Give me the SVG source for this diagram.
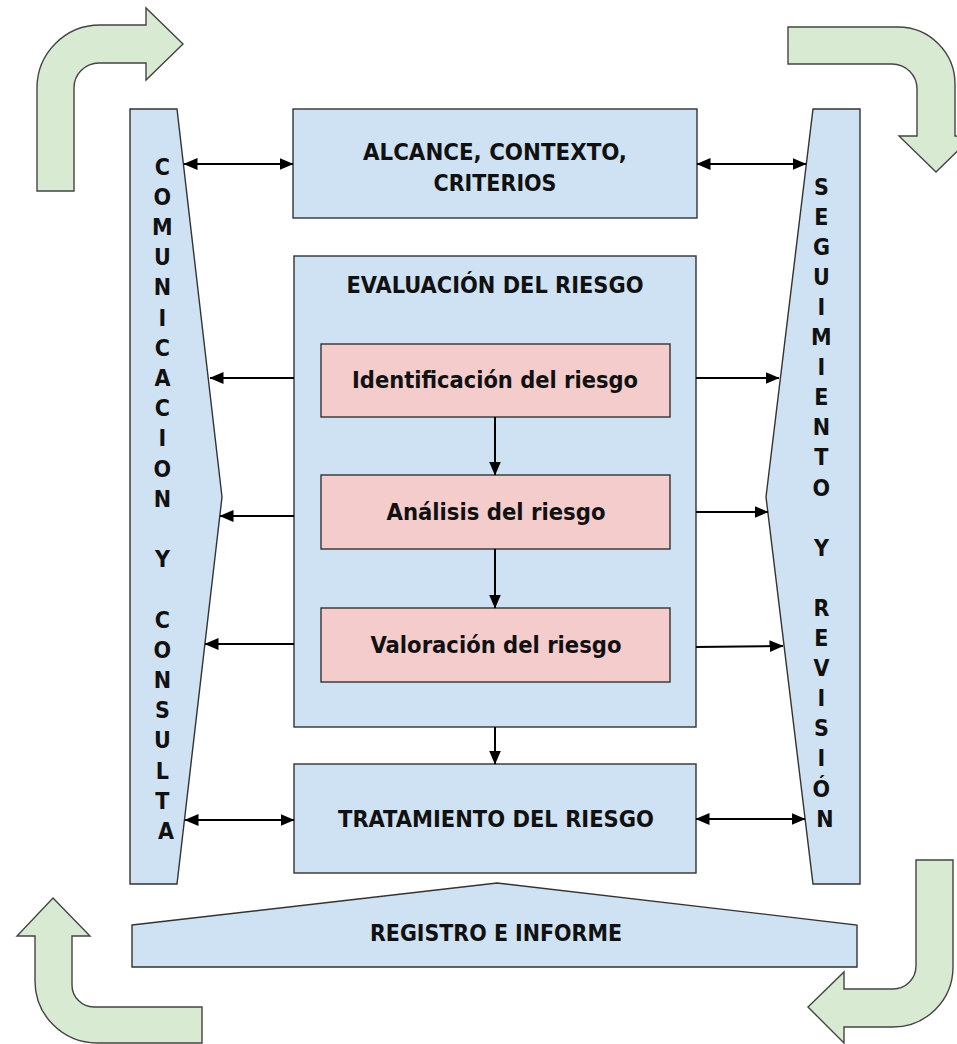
<svg xmlns="http://www.w3.org/2000/svg" width="957" height="1044" viewBox="0 0 957 1044">
  <style>
    .blue { fill: #cfe2f3; stroke: #333333; stroke-width: 1.4; }
    .pink { fill: #f4cccc; stroke: #333333; stroke-width: 1.4; }
    .cycle { fill: #d9ead3; stroke: #444444; stroke-width: 1.4; stroke-linejoin: miter; }
    .lbl { font-family: "DejaVu Sans Condensed", "DejaVu Sans", "Liberation Sans", sans-serif; font-stretch: condensed; font-weight: bold; font-size: 23px; fill: #111111; text-anchor: middle; }
    .col { font-family: "DejaVu Sans Condensed", "DejaVu Sans", "Liberation Sans", sans-serif; font-stretch: condensed; font-weight: bold; font-size: 23px; fill: #111111; text-anchor: middle; }
    .conn { stroke: #000000; stroke-width: 2; fill: none; }
  </style>
  <defs>
    <marker id="head" viewBox="0 0 14 12" refX="13.5" refY="6" markerWidth="14" markerHeight="12" markerUnits="userSpaceOnUse" orient="auto-start-reverse">
      <path d="M0,0 L14,6 L0,12 Z" fill="#000000"/>
    </marker>
  </defs>

  <rect width="957" height="1044" fill="#ffffff"/>

  <!-- cycle arrows in the four corners -->
  <g id="cycle-top-left">
    <path class="cycle" d="M37,191 V88 A63,63 0 0 1 100,25 H146 V8 L183,44 L146,80 V63 H99 A25,25 0 0 0 74,88 V191 Z"/>
  </g>
  <g id="cycle-top-right">
    <path class="cycle" d="M788,27 H898 A57,57 0 0 1 955,84 V136 H973 L936,172 L899,136 H917 V89 A25,25 0 0 0 892,64 H788 Z"/>
  </g>
  <g id="cycle-bottom-right">
    <path class="cycle" d="M916,860 H953 V967 A60,60 0 0 1 893,1027 H844 V1043 L808,1007 L844,972 V989 H893 A23,23 0 0 0 916,966 Z"/>
  </g>
  <g id="cycle-bottom-left">
    <path class="cycle" d="M53,898 L90,936 H72 V985 A22,22 0 0 0 94,1007 H202 V1043 H97 A62,62 0 0 1 35,981 V936 H17 Z"/>
  </g>

  <!-- side columns -->
  <g id="comunicacion">
    <polygon class="blue" points="130,109 177,109 222,497 177,884 130,884"/>
    <text class="col">
      <tspan x="166" y="174.5">C</tspan>
      <tspan x="166" y="204.7">O</tspan>
      <tspan x="166" y="234.9">M</tspan>
      <tspan x="166" y="265.1">U</tspan>
      <tspan x="166" y="295.3">N</tspan>
      <tspan x="166" y="325.5">I</tspan>
      <tspan x="166" y="355.7">C</tspan>
      <tspan x="166" y="385.9">A</tspan>
      <tspan x="166" y="416.1">C</tspan>
      <tspan x="166" y="446.3">I</tspan>
      <tspan x="166" y="476.5">O</tspan>
      <tspan x="166" y="506.7">N</tspan>
      <tspan x="166" y="567.1">Y</tspan>
      <tspan x="166" y="627.5">C</tspan>
      <tspan x="166" y="657.7">O</tspan>
      <tspan x="166" y="687.9">N</tspan>
      <tspan x="166" y="718.1">S</tspan>
      <tspan x="166" y="748.3">U</tspan>
      <tspan x="166" y="778.5">L</tspan>
      <tspan x="166" y="808.7">T</tspan>
      <tspan x="166" y="838.9">A</tspan>
    </text>
  </g>
  <g id="seguimiento">
    <polygon class="blue" points="813,109 860,109 860,884 813,884 766,497"/>
    <text class="col">
      <tspan x="825" y="194.5">S</tspan>
      <tspan x="825" y="224.6">E</tspan>
      <tspan x="825" y="254.7">G</tspan>
      <tspan x="825" y="284.8">U</tspan>
      <tspan x="825" y="314.9">I</tspan>
      <tspan x="825" y="345">M</tspan>
      <tspan x="825" y="375.1">I</tspan>
      <tspan x="825" y="405.2">E</tspan>
      <tspan x="825" y="435.3">N</tspan>
      <tspan x="825" y="465.4">T</tspan>
      <tspan x="825" y="495.5">O</tspan>
      <tspan x="825" y="555.7">Y</tspan>
      <tspan x="825" y="615.9">R</tspan>
      <tspan x="825" y="646">E</tspan>
      <tspan x="825" y="676.1">V</tspan>
      <tspan x="825" y="706.2">I</tspan>
      <tspan x="825" y="736.3">S</tspan>
      <tspan x="825" y="766.4">I</tspan>
      <tspan x="825" y="796.5">Ó</tspan>
      <tspan x="825" y="826.6">N</tspan>
    </text>
  </g>

  <!-- central process -->
  <g id="alcance">
    <rect class="blue" x="293" y="109" width="404" height="109"/>
    <text class="lbl" x="495" y="160" textLength="264" lengthAdjust="spacingAndGlyphs">ALCANCE, CONTEXTO,</text>
    <text class="lbl" x="495" y="191" textLength="123" lengthAdjust="spacingAndGlyphs">CRITERIOS</text>
  </g>
  <g id="evaluacion">
    <rect class="blue" x="294" y="256" width="402" height="471"/>
    <text class="lbl" x="495" y="293" textLength="297" lengthAdjust="spacingAndGlyphs">EVALUACIÓN DEL RIESGO</text>
  </g>
  <g id="identificacion">
    <rect class="pink" x="321" y="344" width="349" height="73"/>
    <text class="lbl" x="495" y="388" textLength="286" lengthAdjust="spacingAndGlyphs">Identificación del riesgo</text>
  </g>
  <g id="analisis">
    <rect class="pink" x="321" y="475" width="349" height="74"/>
    <text class="lbl" x="496" y="520" textLength="219" lengthAdjust="spacingAndGlyphs">Análisis del riesgo</text>
  </g>
  <g id="valoracion">
    <rect class="pink" x="321" y="608" width="349" height="74"/>
    <text class="lbl" x="496" y="653" textLength="251" lengthAdjust="spacingAndGlyphs">Valoración del riesgo</text>
  </g>
  <g id="tratamiento">
    <rect class="blue" x="294" y="764" width="402" height="109"/>
    <text class="lbl" x="496" y="827" textLength="316" lengthAdjust="spacingAndGlyphs">TRATAMIENTO DEL RIESGO</text>
  </g>
  <g id="registro">
    <polygon class="blue" points="132,925 497,883 857,925 857,967 132,967"/>
    <text class="lbl" x="496" y="941" textLength="252" lengthAdjust="spacingAndGlyphs">REGISTRO E INFORME</text>
  </g>

  <!-- connectors -->
  <g id="connectors">
    <line class="conn" x1="184" y1="164" x2="293" y2="164" marker-start="url(#head)" marker-end="url(#head)"/>
    <line class="conn" x1="697" y1="164" x2="806" y2="164" marker-start="url(#head)" marker-end="url(#head)"/>
    <line class="conn" x1="294" y1="378" x2="210" y2="378" marker-end="url(#head)"/>
    <line class="conn" x1="294" y1="516" x2="220" y2="516" marker-end="url(#head)"/>
    <line class="conn" x1="294" y1="644" x2="205" y2="644" marker-end="url(#head)"/>
    <line class="conn" x1="696" y1="378" x2="779" y2="378" marker-end="url(#head)"/>
    <line class="conn" x1="696" y1="512" x2="768" y2="512" marker-end="url(#head)"/>
    <line class="conn" x1="696" y1="647" x2="783" y2="646" marker-end="url(#head)"/>
    <line class="conn" x1="495" y1="417" x2="495" y2="475" marker-end="url(#head)"/>
    <line class="conn" x1="495" y1="549" x2="495" y2="608" marker-end="url(#head)"/>
    <line class="conn" x1="495" y1="727" x2="495" y2="764" marker-end="url(#head)"/>
    <line class="conn" x1="185" y1="820" x2="294" y2="820" marker-start="url(#head)" marker-end="url(#head)"/>
    <line class="conn" x1="696" y1="819" x2="805" y2="819" marker-start="url(#head)" marker-end="url(#head)"/>
  </g>
</svg>
